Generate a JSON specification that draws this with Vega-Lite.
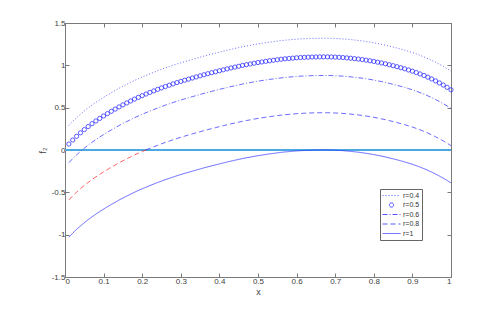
{
  "$schema": "https://vega.github.io/schema/vega-lite/v6.json",
  "width": 386,
  "height": 254,
  "autosize": {"type": "none"},
  "padding": {"left": 65, "top": 23, "right": 47, "bottom": 35},
  "background": "white",
  "data": {"values": [
    {"x":0.01,"r04":0.290,"r05":0.070,"r06":-0.150,"r08":-0.590,"r1":-1.030},
    {"x":0.02,"r04":0.338,"r05":0.118,"r06":-0.102,"r08":-0.542,"r1":-0.982},
    {"x":0.03,"r04":0.382,"r05":0.162,"r06":-0.058,"r08":-0.498,"r1":-0.938},
    {"x":0.04,"r04":0.423,"r05":0.203,"r06":-0.017,"r08":-0.457,"r1":-0.897},
    {"x":0.05,"r04":0.461,"r05":0.241,"r06":0.021,"r08":-0.419,"r1":-0.859},
    {"x":0.06,"r04":0.497,"r05":0.277,"r06":0.057,"r08":-0.383,"r1":-0.823},
    {"x":0.07,"r04":0.531,"r05":0.311,"r06":0.091,"r08":-0.349,"r1":-0.789},
    {"x":0.08,"r04":0.563,"r05":0.343,"r06":0.123,"r08":-0.317,"r1":-0.757},
    {"x":0.09,"r04":0.593,"r05":0.373,"r06":0.153,"r08":-0.287,"r1":-0.727},
    {"x":0.10,"r04":0.622,"r05":0.402,"r06":0.182,"r08":-0.258,"r1":-0.698},
    {"x":0.11,"r04":0.650,"r05":0.430,"r06":0.210,"r08":-0.230,"r1":-0.670},
    {"x":0.12,"r04":0.677,"r05":0.457,"r06":0.237,"r08":-0.203,"r1":-0.643},
    {"x":0.13,"r04":0.703,"r05":0.483,"r06":0.263,"r08":-0.177,"r1":-0.617},
    {"x":0.14,"r04":0.729,"r05":0.509,"r06":0.289,"r08":-0.151,"r1":-0.591},
    {"x":0.15,"r04":0.753,"r05":0.533,"r06":0.313,"r08":-0.127,"r1":-0.567},
    {"x":0.16,"r04":0.776,"r05":0.556,"r06":0.336,"r08":-0.104,"r1":-0.544},
    {"x":0.17,"r04":0.799,"r05":0.579,"r06":0.359,"r08":-0.081,"r1":-0.521},
    {"x":0.18,"r04":0.821,"r05":0.601,"r06":0.381,"r08":-0.059,"r1":-0.499},
    {"x":0.19,"r04":0.842,"r05":0.622,"r06":0.402,"r08":-0.038,"r1":-0.478},
    {"x":0.20,"r04":0.862,"r05":0.642,"r06":0.422,"r08":-0.018,"r1":-0.458},
    {"x":0.21,"r04":0.881,"r05":0.661,"r06":0.441,"r08":0.001,"r1":-0.439},
    {"x":0.22,"r04":0.900,"r05":0.680,"r06":0.460,"r08":0.020,"r1":-0.420},
    {"x":0.23,"r04":0.918,"r05":0.698,"r06":0.478,"r08":0.038,"r1":-0.402},
    {"x":0.24,"r04":0.936,"r05":0.716,"r06":0.496,"r08":0.056,"r1":-0.384},
    {"x":0.25,"r04":0.953,"r05":0.733,"r06":0.513,"r08":0.073,"r1":-0.367},
    {"x":0.26,"r04":0.970,"r05":0.750,"r06":0.530,"r08":0.090,"r1":-0.350},
    {"x":0.27,"r04":0.985,"r05":0.765,"r06":0.545,"r08":0.105,"r1":-0.335},
    {"x":0.28,"r04":1.001,"r05":0.781,"r06":0.561,"r08":0.121,"r1":-0.319},
    {"x":0.29,"r04":1.016,"r05":0.796,"r06":0.576,"r08":0.136,"r1":-0.304},
    {"x":0.30,"r04":1.030,"r05":0.810,"r06":0.590,"r08":0.150,"r1":-0.290},
    {"x":0.31,"r04":1.044,"r05":0.824,"r06":0.604,"r08":0.164,"r1":-0.276},
    {"x":0.32,"r04":1.057,"r05":0.837,"r06":0.617,"r08":0.177,"r1":-0.263},
    {"x":0.33,"r04":1.070,"r05":0.850,"r06":0.630,"r08":0.190,"r1":-0.250},
    {"x":0.34,"r04":1.083,"r05":0.863,"r06":0.643,"r08":0.203,"r1":-0.237},
    {"x":0.35,"r04":1.096,"r05":0.876,"r06":0.656,"r08":0.216,"r1":-0.224},
    {"x":0.36,"r04":1.109,"r05":0.889,"r06":0.669,"r08":0.229,"r1":-0.211},
    {"x":0.37,"r04":1.121,"r05":0.901,"r06":0.681,"r08":0.241,"r1":-0.199},
    {"x":0.38,"r04":1.133,"r05":0.913,"r06":0.693,"r08":0.253,"r1":-0.187},
    {"x":0.39,"r04":1.144,"r05":0.924,"r06":0.704,"r08":0.264,"r1":-0.176},
    {"x":0.40,"r04":1.156,"r05":0.936,"r06":0.716,"r08":0.276,"r1":-0.164},
    {"x":0.41,"r04":1.167,"r05":0.947,"r06":0.727,"r08":0.287,"r1":-0.153},
    {"x":0.42,"r04":1.178,"r05":0.958,"r06":0.738,"r08":0.298,"r1":-0.142},
    {"x":0.43,"r04":1.189,"r05":0.969,"r06":0.749,"r08":0.309,"r1":-0.131},
    {"x":0.44,"r04":1.199,"r05":0.979,"r06":0.759,"r08":0.319,"r1":-0.121},
    {"x":0.45,"r04":1.209,"r05":0.989,"r06":0.769,"r08":0.329,"r1":-0.111},
    {"x":0.46,"r04":1.219,"r05":0.999,"r06":0.779,"r08":0.339,"r1":-0.101},
    {"x":0.47,"r04":1.228,"r05":1.008,"r06":0.788,"r08":0.348,"r1":-0.092},
    {"x":0.48,"r04":1.236,"r05":1.016,"r06":0.796,"r08":0.356,"r1":-0.084},
    {"x":0.49,"r04":1.245,"r05":1.025,"r06":0.805,"r08":0.365,"r1":-0.075},
    {"x":0.50,"r04":1.253,"r05":1.033,"r06":0.813,"r08":0.373,"r1":-0.067},
    {"x":0.51,"r04":1.260,"r05":1.040,"r06":0.820,"r08":0.380,"r1":-0.060},
    {"x":0.52,"r04":1.267,"r05":1.047,"r06":0.827,"r08":0.387,"r1":-0.053},
    {"x":0.53,"r04":1.274,"r05":1.054,"r06":0.834,"r08":0.394,"r1":-0.046},
    {"x":0.54,"r04":1.280,"r05":1.060,"r06":0.840,"r08":0.400,"r1":-0.040},
    {"x":0.55,"r04":1.286,"r05":1.066,"r06":0.846,"r08":0.406,"r1":-0.034},
    {"x":0.56,"r04":1.292,"r05":1.072,"r06":0.852,"r08":0.412,"r1":-0.028},
    {"x":0.57,"r04":1.297,"r05":1.077,"r06":0.857,"r08":0.417,"r1":-0.023},
    {"x":0.58,"r04":1.301,"r05":1.081,"r06":0.861,"r08":0.421,"r1":-0.019},
    {"x":0.59,"r04":1.305,"r05":1.085,"r06":0.865,"r08":0.425,"r1":-0.015},
    {"x":0.60,"r04":1.309,"r05":1.089,"r06":0.869,"r08":0.429,"r1":-0.011},
    {"x":0.61,"r04":1.312,"r05":1.092,"r06":0.872,"r08":0.432,"r1":-0.008},
    {"x":0.62,"r04":1.314,"r05":1.094,"r06":0.874,"r08":0.434,"r1":-0.006},
    {"x":0.63,"r04":1.316,"r05":1.096,"r06":0.876,"r08":0.436,"r1":-0.004},
    {"x":0.64,"r04":1.318,"r05":1.098,"r06":0.878,"r08":0.438,"r1":-0.002},
    {"x":0.65,"r04":1.319,"r05":1.099,"r06":0.879,"r08":0.439,"r1":-0.001},
    {"x":0.66,"r04":1.320,"r05":1.100,"r06":0.880,"r08":0.440,"r1":0.000},
    {"x":0.67,"r04":1.320,"r05":1.100,"r06":0.880,"r08":0.440,"r1":0.000},
    {"x":0.68,"r04":1.320,"r05":1.100,"r06":0.880,"r08":0.440,"r1":0.000},
    {"x":0.69,"r04":1.319,"r05":1.099,"r06":0.879,"r08":0.439,"r1":-0.001},
    {"x":0.70,"r04":1.317,"r05":1.097,"r06":0.877,"r08":0.437,"r1":-0.003},
    {"x":0.71,"r04":1.315,"r05":1.095,"r06":0.875,"r08":0.435,"r1":-0.005},
    {"x":0.72,"r04":1.312,"r05":1.092,"r06":0.872,"r08":0.432,"r1":-0.008},
    {"x":0.73,"r04":1.308,"r05":1.088,"r06":0.868,"r08":0.428,"r1":-0.012},
    {"x":0.74,"r04":1.304,"r05":1.084,"r06":0.864,"r08":0.424,"r1":-0.016},
    {"x":0.75,"r04":1.299,"r05":1.079,"r06":0.859,"r08":0.419,"r1":-0.021},
    {"x":0.76,"r04":1.294,"r05":1.074,"r06":0.854,"r08":0.414,"r1":-0.026},
    {"x":0.77,"r04":1.288,"r05":1.068,"r06":0.848,"r08":0.408,"r1":-0.032},
    {"x":0.78,"r04":1.281,"r05":1.061,"r06":0.841,"r08":0.401,"r1":-0.039},
    {"x":0.79,"r04":1.274,"r05":1.054,"r06":0.834,"r08":0.394,"r1":-0.046},
    {"x":0.80,"r04":1.266,"r05":1.046,"r06":0.826,"r08":0.386,"r1":-0.054},
    {"x":0.81,"r04":1.257,"r05":1.037,"r06":0.817,"r08":0.377,"r1":-0.063},
    {"x":0.82,"r04":1.248,"r05":1.028,"r06":0.808,"r08":0.368,"r1":-0.072},
    {"x":0.83,"r04":1.238,"r05":1.018,"r06":0.798,"r08":0.358,"r1":-0.082},
    {"x":0.84,"r04":1.227,"r05":1.007,"r06":0.787,"r08":0.347,"r1":-0.093},
    {"x":0.85,"r04":1.216,"r05":0.996,"r06":0.776,"r08":0.336,"r1":-0.104},
    {"x":0.86,"r04":1.204,"r05":0.984,"r06":0.764,"r08":0.324,"r1":-0.116},
    {"x":0.87,"r04":1.192,"r05":0.972,"r06":0.752,"r08":0.312,"r1":-0.128},
    {"x":0.88,"r04":1.179,"r05":0.959,"r06":0.739,"r08":0.299,"r1":-0.141},
    {"x":0.89,"r04":1.165,"r05":0.945,"r06":0.725,"r08":0.285,"r1":-0.155},
    {"x":0.90,"r04":1.151,"r05":0.931,"r06":0.711,"r08":0.271,"r1":-0.169},
    {"x":0.91,"r04":1.135,"r05":0.915,"r06":0.695,"r08":0.255,"r1":-0.185},
    {"x":0.92,"r04":1.118,"r05":0.898,"r06":0.678,"r08":0.238,"r1":-0.202},
    {"x":0.93,"r04":1.100,"r05":0.880,"r06":0.660,"r08":0.220,"r1":-0.220},
    {"x":0.94,"r04":1.080,"r05":0.860,"r06":0.640,"r08":0.200,"r1":-0.240},
    {"x":0.95,"r04":1.059,"r05":0.839,"r06":0.619,"r08":0.179,"r1":-0.261},
    {"x":0.96,"r04":1.036,"r05":0.816,"r06":0.596,"r08":0.156,"r1":-0.284},
    {"x":0.97,"r04":1.012,"r05":0.792,"r06":0.572,"r08":0.132,"r1":-0.308},
    {"x":0.98,"r04":0.987,"r05":0.767,"r06":0.547,"r08":0.107,"r1":-0.333},
    {"x":0.99,"r04":0.960,"r05":0.740,"r06":0.520,"r08":0.080,"r1":-0.360},
    {"x":1.00,"r04":0.931,"r05":0.711,"r06":0.491,"r08":0.051,"r1":-0.389}
  ]},
  "layer": [
    {
      "mark": {"type": "rule", "color": "#4da8e0", "strokeWidth": 1},
      "encoding": {
        "y": {"datum": 0, "type": "quantitative", "axis": null, "scale": {"domain": [-1.5, 1.5], "nice": false, "zero": false}}
      }
    },
    {
      "transform": [
        {"fold": ["r04", "r06", "r08", "r1"], "as": ["series", "y"]},
        {"filter": "datum.series != 'r08' || datum.x >= 0.21"}
      ],
      "mark": {"type": "line", "color": "#2a2aff", "strokeWidth": 0.7, "clip": true},
      "encoding": {
        "x": {"field": "x", "type": "quantitative", "scale": {"domain": [0, 1], "nice": false, "zero": false},
          "axis": {"orient": "bottom", "title": "x", "values": [0,0.1,0.2,0.3,0.4,0.5,0.6,0.7,0.8,0.9,1], "format": ".1~f", "titlePadding": 2}},
        "y": {"field": "y", "type": "quantitative", "scale": {"domain": [-1.5, 1.5], "nice": false, "zero": false},
          "axis": {"orient": "left", "title": "f₂", "values": [-1.5,-1,-0.5,0,0.5,1,1.5], "format": ".1~f", "labelExpr": "replace(datum.label, '−', '-')", "titlePadding": 4}},
        "strokeDash": {"field": "series", "type": "nominal",
          "scale": {"domain": ["r04","r05","r06","r08","r1"], "range": [[1,2],[1,0],[5,2,1,2],[5,3],[1,0]]},
          "legend": {"title": null, "orient": "none", "legendX": 315, "legendY": 166,
            "labelExpr": "datum.label == 'r04' ? 'r=0.4' : datum.label == 'r05' ? 'r=0.5' : datum.label == 'r06' ? 'r=0.6' : datum.label == 'r08' ? 'r=0.8' : 'r=1'",
            "encode": {"symbols": {"update": {"size": {"signal": "datum.value == 'r05' ? 18 : 324"}, "stroke": {"value": "#2a2aff"}, "fill": {"value": "transparent"}}}}}}
      }
    },
    {
      "transform": [{"filter": "datum.x <= 0.21"}],
      "mark": {"type": "line", "color": "#ff2020", "strokeWidth": 0.7, "strokeDash": [5, 3]},
      "encoding": {
        "x": {"field": "x", "type": "quantitative", "axis": null},
        "y": {"field": "r08", "type": "quantitative", "axis": null}
      }
    },
    {
      "transform": [{"fold": ["r05"], "as": ["series", "y"]}],
      "mark": {"type": "point", "color": "#2a2aff", "filled": false, "strokeWidth": 0.75, "opacity": 1, "size": 18},
      "encoding": {
        "x": {"field": "x", "type": "quantitative",
          "axis": {"orient": "top", "labels": false, "title": null, "values": [0,0.1,0.2,0.3,0.4,0.5,0.6,0.7,0.8,0.9,1]}},
        "y": {"field": "y", "type": "quantitative",
          "axis": {"orient": "right", "labels": false, "title": null, "values": [-1.5,-1,-0.5,0,0.5,1,1.5]}},
        "shape": {"field": "series", "type": "nominal",
          "scale": {"domain": ["r04","r05","r06","r08","r1"], "range": ["stroke","circle","stroke","stroke","stroke"]},
          "legend": {"title": null, "orient": "none", "legendX": 315, "legendY": 166,
            "labelExpr": "datum.label == 'r04' ? 'r=0.4' : datum.label == 'r05' ? 'r=0.5' : datum.label == 'r06' ? 'r=0.6' : datum.label == 'r08' ? 'r=0.8' : 'r=1'",
            "encode": {"symbols": {"update": {"size": {"signal": "datum.value == 'r05' ? 18 : 324"}, "stroke": {"value": "#2a2aff"}, "fill": {"value": "transparent"}}}}}}
      }
    }
  ],
  "resolve": {"axis": {"x": "independent", "y": "independent"}},
  "config": {
    "view": {"stroke": null},
    "font": "Liberation Sans",
    "axis": {
      "grid": false,
      "domainColor": "#7a7a7a",
      "domainWidth": 1,
      "tickColor": "#7a7a7a",
      "tickWidth": 1,
      "tickSize": -4,
      "labelFont": "Liberation Sans",
      "labelFontSize": 8,
      "labelColor": "#404040",
      "labelPadding": 4,
      "titleFont": "Liberation Sans",
      "titleFontSize": 9,
      "titleFontWeight": "normal",
      "titleColor": "#404040"
    },
    "legend": {
      "fillColor": "white",
      "strokeColor": "#666666",
      "padding": 2,
      "labelFont": "Liberation Sans",
      "labelFontSize": 7,
      "labelColor": "#333333",
      "labelOffset": 2,
      "clipHeight": 9,
      "rowPadding": 0.5,
      "symbolStrokeColor": "#2a2aff",
      "symbolFillColor": "transparent",
      "symbolStrokeWidth": 0.8,
      "cornerRadius": 0
    }
  }
}
